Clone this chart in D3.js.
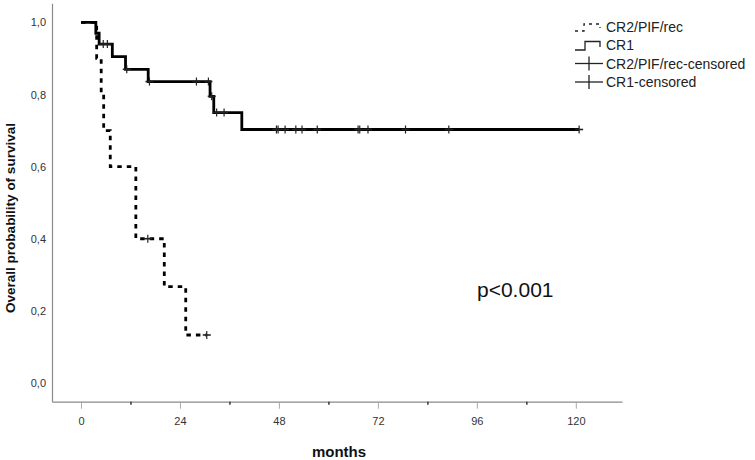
<!DOCTYPE html>
<html>
<head>
<meta charset="utf-8">
<script src="https://cdn.jsdelivr.net/npm/d3@7"></script>
<style>
  html, body { margin: 0; padding: 0; background: #fff; }
  svg { display: block; }
  text { font-family: "Liberation Sans", Arial, sans-serif; }
</style>
</head>
<body>
<svg id="chart" width="755" height="460"></svg>
<script>
// ---- data ----
const cr2Time = [0, 3.8, 4.9, 5.5, 7.1, 13.3, 20.2, 25.4];
const cr2Surv = [1.0, 0.9, 0.8, 0.7, 0.6, 0.4, 0.267, 0.133];
const cr2End = 30.5;
const cr2Censor = [16.2, 30.5];

const cr1Time = [0, 3.6, 4.4, 7.6, 10.8, 16.3, 31.3, 32.2, 39.0];
const cr1Surv = [1.0, 0.97, 0.94, 0.905, 0.87, 0.836, 0.795, 0.75, 0.703];
const cr1End = 120.8;
const cr1Censor = [5.4, 6.4, 11.1, 16.6, 28.0, 30.9, 31.7, 32.9, 34.7,
                   47.4, 47.8, 49.5, 52.1, 53.6, 57.3, 67.2, 67.6, 69.6, 78.7, 89.2, 120.8];

const xTicks = [0, 24, 48, 72, 96, 120];
const xMinor = [12, 36, 60, 84, 108];
const yTicks = [0, 0.2, 0.4, 0.6, 0.8, 1.0];
const legendLabels = ["CR2/PIF/rec", "CR1", "CR2/PIF/rec-censored", "CR1-censored"];

// ---- layout ----
const svg = d3.select("#chart");
const x = d3.scaleLinear().domain([-7.03, 131.2]).range([52, 622]);
const y = d3.scaleLinear().domain([-0.052, 1.053]).range([401.7, 3.3]);

function survAt(times, surv, t) {
  let s = surv[0];
  for (let i = 0; i < times.length; i++) if (times[i] <= t) s = surv[i];
  return s;
}
function stepPoints(times, surv, end) {
  const pts = times.map((t, i) => [t, surv[i]]);
  pts.push([end, surv[surv.length - 1]]);
  return pts;
}
const stepLine = d3.line().x(d => x(d[0])).y(d => y(d[1])).curve(d3.curveStepAfter);

// axes
const yAxis = d3.axisLeft(y).tickValues(yTicks).tickSize(0).tickPadding(6)
  .tickFormat(d => d3.format(".1f")(d).replace(".", ","));
const gy = svg.append("g").attr("transform", `translate(${x.range()[0]},0)`).call(yAxis);
gy.select(".domain").attr("stroke", "#8a8a8a").attr("stroke-width", 1.2);
gy.selectAll("text").attr("font-size", 11).attr("fill", "#333");

const xAxis = d3.axisBottom(x).tickValues(xTicks).tickSize(7).tickPadding(9).tickSizeOuter(0);
const gx = svg.append("g").attr("transform", `translate(0,${y.range()[0]})`).call(xAxis);
gx.select(".domain").attr("stroke", "#8a8a8a").attr("stroke-width", 1.2);
gx.selectAll(".tick line").attr("stroke", "#aaa").attr("stroke-width", 1);
gx.selectAll("text").attr("font-size", 11).attr("fill", "#333");
const xMinorAxis = d3.axisBottom(x).tickValues(xMinor).tickSize(3).tickFormat("");
const gxm = svg.append("g").attr("transform", `translate(0,${y.range()[0]})`).call(xMinorAxis);
gxm.select(".domain").remove();
gxm.selectAll(".tick line").attr("stroke", "#333").attr("stroke-width", 1.5);

// axis titles
svg.append("text").attr("x", 339).attr("y", 457)
  .attr("text-anchor", "middle").attr("font-size", 15).attr("font-weight", "bold")
  .attr("fill", "#111").text("months");
svg.append("text").attr("transform", "translate(15,218) rotate(-90)")
  .attr("text-anchor", "middle").attr("font-size", 13.5).attr("font-weight", "bold")
  .attr("fill", "#111").text("Overall probability of survival");

// curves
svg.append("path").datum(stepPoints(cr2Time, cr2Surv, cr2End))
  .attr("d", stepLine).attr("fill", "none").attr("stroke", "#000")
  .attr("stroke-width", 2.8).attr("stroke-dasharray", "4.5,5");
svg.append("path").datum(stepPoints(cr1Time, cr1Surv, cr1End))
  .attr("d", stepLine).attr("fill", "none").attr("stroke", "#000")
  .attr("stroke-width", 2.8).attr("stroke-linejoin", "miter");

// censor marks
function censorMarks(cTimes, times, surv, cls) {
  const g = svg.append("g").attr("class", cls);
  cTimes.forEach(t => {
    const cx = x(t), cy = y(survAt(times, surv, t));
    g.append("line").attr("x1", cx).attr("x2", cx).attr("y1", cy - 4).attr("y2", cy + 4)
      .attr("stroke", "#222").attr("stroke-width", 1.2);
    g.append("line").attr("x1", cx - 4).attr("x2", cx + 4).attr("y1", cy).attr("y2", cy)
      .attr("stroke", "#222").attr("stroke-width", 1.6);
  });
}
censorMarks(cr2Censor, cr2Time, cr2Surv, "c2");
censorMarks(cr1Censor, cr1Time, cr1Surv, "c1");

// p-value
svg.append("text").attr("x", 477).attr("y", 297)
  .attr("font-family", "Lato, 'Open Sans', sans-serif").attr("font-size", 21)
  .attr("fill", "#111").text("p<0.001");

// legend
const lg = svg.append("g").attr("transform", "translate(575,0)");
const rowY = [27, 45, 63.5, 82];
legendLabels.forEach((lab, i) => {
  lg.append("text").attr("x", 31).attr("y", rowY[i] + 5)
    .attr("font-size", 14).attr("fill", "#222").text(lab);
});
lg.append("path").attr("d", `M0,${rowY[0] + 4} H9 V${rowY[0] - 3} H25 V${rowY[0] + 1}`)
  .attr("fill", "none").attr("stroke", "#222").attr("stroke-width", 1.3)
  .attr("stroke-dasharray", "3,4");
lg.append("path").attr("d", `M0,${rowY[1] + 5} H10 V${rowY[1] - 3.5} H25 V${rowY[1] + 2}`)
  .attr("fill", "none").attr("stroke", "#222").attr("stroke-width", 1.3);
[2, 3].forEach(i => {
  lg.append("line").attr("x1", 0).attr("x2", 28).attr("y1", rowY[i]).attr("y2", rowY[i])
    .attr("stroke", "#222").attr("stroke-width", 1.3);
  lg.append("line").attr("x1", 14).attr("x2", 14).attr("y1", rowY[i] - 7).attr("y2", rowY[i] + 7)
    .attr("stroke", "#222").attr("stroke-width", 1.3);
});
</script>
</body>
</html>
